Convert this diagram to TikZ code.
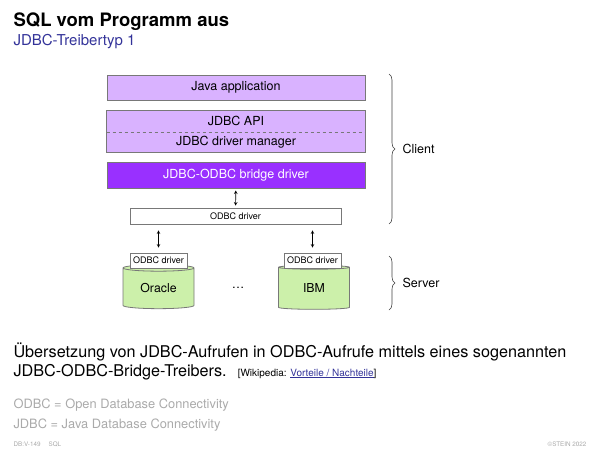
\documentclass[tikz,border=0pt]{standalone}
\usepackage{fontspec}
\setmainfont{TeX Gyre Heros}
\usetikzlibrary{shapes.geometric,decorations.pathreplacing}
\definecolor{lila}{RGB}{217,178,255}
\definecolor{violett}{RGB}{153,48,255}
\definecolor{gruen}{RGB}{204,240,170}
\definecolor{titelblau}{RGB}{51,51,153}
\definecolor{grau}{RGB}{170,170,170}
\definecolor{rand}{RGB}{120,120,120}

\begin{document}
\begin{tikzpicture}[x=1pt, y=-1pt,
    box/.style={draw=rand, line width=0.8pt, minimum width=258, inner sep=0pt, font=\fontsize{12.5}{15}\selectfont},
    small/.style={draw=rand, line width=0.7pt, fill=white, inner sep=0pt, font=\fontsize{9}{10}\selectfont},
    db/.style={cylinder, shape border rotate=90, aspect=0.18, draw=rand, line width=0.8pt, fill=gruen,
        minimum width=71, minimum height=44, inner sep=0pt, font=\fontsize{12.3}{14}\selectfont},
    arr/.style={<->, >=stealth, line width=0.6pt},
    brc/.style={decorate, decoration={brace, amplitude=6pt}, line width=0.6pt, draw=black!75},
    lbl/.style={anchor=west, font=\fontsize{12.5}{15}\selectfont}
  ]

    \useasboundingbox (0,0) rectangle (600,450);

    \node[anchor=base west, font=\bfseries\fontsize{18.5}{22}\selectfont] (t) at (10,26) {SQL vom Programm aus};
    \node[anchor=base west, text=titelblau, font=\fontsize{15}{18}\selectfont] (st) at (10,45) {JDBC-Treibertyp 1};

    \node[box, fill=lila, minimum height=25] (java) at (236,87.5) {Java application};
    \node[box, fill=lila, minimum height=20.5, draw=none] (api) at (236,121.25) {JDBC API};
    \node[box, fill=lila, minimum height=20.5, draw=none] (mgr) at (236,141.75) {JDBC driver manager};
    \draw[draw=rand, line width=0.8pt] (api.north west) rectangle (mgr.south east);
    \draw[dashed, draw=rand, line width=0.5pt] (api.south west) -- (api.south east);
    \node[box, fill=violett, text=white, minimum height=26] (br) at (236,175) {JDBC-ODBC bridge driver};
    \node[small, minimum width=211, minimum height=16] (odbc) at (235.5,216) {ODBC driver};

    \node[db] (ora) at (158.5,288.5) {Oracle};
    \node[db] (ibm) at (314,288.5) {IBM};
    \node[small, minimum width=57, minimum height=15] (d1) at (158.5,260.5) {ODBC driver};
    \node[small, minimum width=57, minimum height=15] (d2) at (312.5,260.5) {ODBC driver};
    \node[font=\fontsize{12.5}{15}\selectfont] (dots) at (238,288) {\dots};

    \draw[arr, shorten <=2pt, shorten >=2pt] (br) -- (odbc);
    \draw[arr, shorten <=6pt, shorten >=5pt] (odbc.south -| d1) -- (d1);
    \draw[arr, shorten <=6pt, shorten >=5pt] (odbc.south -| d2) -- (d2);

    \coordinate (c1) at (389,74);
    \coordinate (c2) at (389,224);
    \coordinate (s1) at (389,256);
    \coordinate (s2) at (389,310);
    \draw[brc] (c1) -- (c2) node[lbl, midway, xshift=10pt] (cl) {Client};
    \draw[brc] (s1) -- (s2) node[lbl, midway, xshift=10pt] (sv) {Server};

    \node[anchor=base west, font=\fontsize{16.2}{20}\selectfont] (p1) at (10,357) {Übersetzung von JDBC-Aufrufen in ODBC-Aufrufe mittels eines sogenannten};
    \node[anchor=base west, font=\fontsize{16.2}{20}\selectfont] (p2) at (10,376) {JDBC-ODBC-Bridge-Treibers.};
    \node[anchor=base west, font=\fontsize{10}{12}\selectfont] (wp) at (p2.base east) {\hspace{4pt}[Wikipedia: \textcolor{titelblau}{\underline{Vorteile / Nachteile}}]};

    \node[anchor=base west, text=grau, font=\fontsize{12.85}{15}\selectfont] (n1) at (10,408) {ODBC = Open Database Connectivity};
    \node[anchor=base west, text=grau, font=\fontsize{12.85}{15}\selectfont] (n2) at (10,428) {JDBC = Java Database Connectivity};

    \node[anchor=base west, text=grau, font=\fontsize{6.3}{8}\selectfont] (f1) at (10,446) {DB:V-149\hspace{8pt}SQL};
    \node[anchor=base east, text=grau, font=\fontsize{6.3}{8}\selectfont] (f2) at (590,446) {©STEIN 2022};

\end{tikzpicture}
\end{document}
